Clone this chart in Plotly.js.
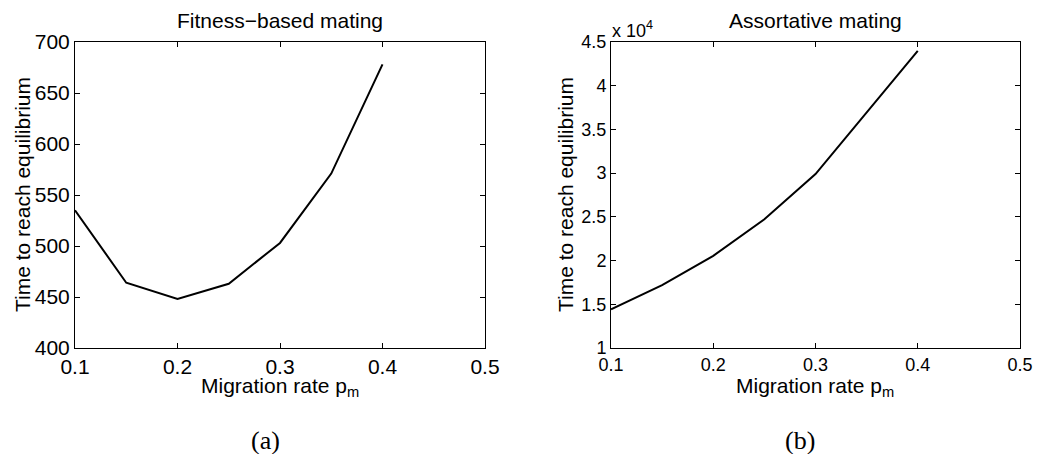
<!DOCTYPE html>
<html>
<head>
<meta charset="utf-8">
<script src="https://cdn.plot.ly/plotly-3.0.1.min.js"></script>
<style>html,body{margin:0;padding:0;background:#fff;}#chart{width:1037px;height:454px;}</style>
</head>
<body>
<div id="chart"></div>
<script>
// Data
const migrationRate = [0.1, 0.15, 0.2, 0.25, 0.3, 0.35, 0.4];
const fitnessTime = [535, 464, 448, 463, 503, 571, 678];
const assortativeTime = [14420, 17180, 20540, 24730, 29900, 36900, 43980];

const xTicks = [0.1, 0.2, 0.3, 0.4, 0.5];
const xTickLabels = ['0.1', '0.2', '0.3', '0.4', '0.5'];
const leftYTicks = [400, 450, 500, 550, 600, 650, 700];
const rightYTicks = [10000, 15000, 20000, 25000, 30000, 35000, 40000, 45000];
const rightYTickLabels = ['1', '1.5', '2', '2.5', '3', '3.5', '4', '4.5'];

const W = 1037, H = 454;
const px = v => v / W, py = v => 1 - v / H;
const sans = 'Liberation Sans, Arial, Helvetica, sans-serif';
const serif = 'Liberation Serif, DejaVu Serif, serif';

const axisCommon = {
  showline: true, linecolor: '#000', linewidth: 1, mirror: 'allticks',
  ticks: 'inside', ticklen: 5, tickwidth: 1, tickcolor: '#000',
  showgrid: false, zeroline: false, fixedrange: true
};

const traces = [
  {x: migrationRate, y: fitnessTime, xaxis: 'x', yaxis: 'y', mode: 'lines',
   line: {color: '#000', width: 2}, hoverinfo: 'skip'},
  {x: migrationRate, y: assortativeTime, xaxis: 'x2', yaxis: 'y2', mode: 'lines',
   line: {color: '#000', width: 2}, hoverinfo: 'skip'}
];

const layout = {
  width: W, height: H,
  margin: {l: 0, r: 0, t: 0, b: 0},
  paper_bgcolor: '#fff', plot_bgcolor: '#fff',
  showlegend: false,
  font: {family: sans, color: '#000'},
  xaxis: Object.assign({}, axisCommon, {
    domain: [px(75), px(485)], range: [0.1, 0.5], anchor: 'y',
    tickvals: xTicks, ticktext: xTickLabels, tickfont: {size: 21, family: sans}
  }),
  yaxis: Object.assign({}, axisCommon, {
    domain: [py(348), py(42)], range: [400, 700], anchor: 'x',
    tickvals: leftYTicks, tickfont: {size: 21, family: sans}
  }),
  xaxis2: Object.assign({}, axisCommon, {
    domain: [px(611), px(1020)], range: [0.1, 0.5], anchor: 'y2',
    tickvals: xTicks, ticktext: xTickLabels, tickfont: {size: 18, family: sans}
  }),
  yaxis2: Object.assign({}, axisCommon, {
    domain: [py(348), py(42)], range: [10000, 45000], anchor: 'x2',
    tickvals: rightYTicks, ticktext: rightYTickLabels, tickfont: {size: 18, family: sans}
  }),
  annotations: [
    {text: 'Fitness\u2212based mating', x: px(280), y: py(20), xref: 'paper', yref: 'paper',
     showarrow: false, xanchor: 'center', yanchor: 'middle', font: {size: 21, family: sans}},
    {text: 'Assortative mating', x: px(815), y: py(20), xref: 'paper', yref: 'paper',
     showarrow: false, xanchor: 'center', yanchor: 'middle', font: {size: 21, family: sans}},
    {text: 'x 10<sup>4</sup>', x: px(610), y: py(30), xref: 'paper', yref: 'paper',
     showarrow: false, xanchor: 'left', yanchor: 'middle', font: {size: 18, family: sans}},
    {text: 'Time to reach equilibrium', x: px(22), y: py(195), xref: 'paper', yref: 'paper',
     showarrow: false, textangle: -90, xanchor: 'center', yanchor: 'middle', font: {size: 21, family: sans}},
    {text: 'Time to reach equilibrium', x: px(565), y: py(195), xref: 'paper', yref: 'paper',
     showarrow: false, textangle: -90, xanchor: 'center', yanchor: 'middle', font: {size: 21, family: sans}},
    {text: 'Migration rate p<sub>m</sub>', x: px(280), y: py(387), xref: 'paper', yref: 'paper',
     showarrow: false, xanchor: 'center', yanchor: 'middle', font: {size: 21, family: sans}},
    {text: 'Migration rate p<sub>m</sub>', x: px(815), y: py(387), xref: 'paper', yref: 'paper',
     showarrow: false, xanchor: 'center', yanchor: 'middle', font: {size: 21, family: sans}},
    {text: '(a)', x: px(265), y: py(440), xref: 'paper', yref: 'paper',
     showarrow: false, xanchor: 'center', yanchor: 'middle', font: {size: 26, family: serif}},
    {text: '(b)', x: px(800), y: py(440), xref: 'paper', yref: 'paper',
     showarrow: false, xanchor: 'center', yanchor: 'middle', font: {size: 26, family: serif}}
  ]
};

Plotly.newPlot('chart', traces, layout, {displayModeBar: false, staticPlot: true});
</script>
</body>
</html>
